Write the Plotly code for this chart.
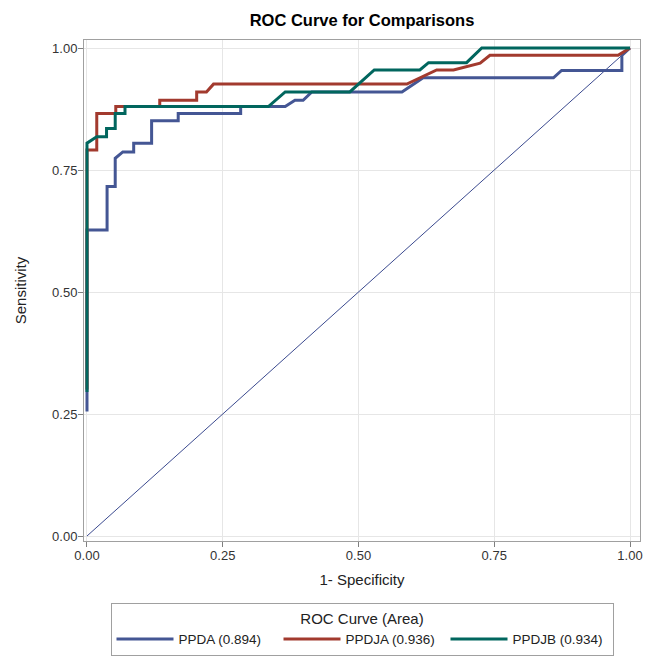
import plotly.graph_objects as go

# ---- data ----
ppda_x = [0, 0, 0.037, 0.037, 0.052, 0.052, 0.066, 0.086, 0.086, 0.119, 0.119, 0.168, 0.168,
          0.283, 0.283, 0.365, 0.383, 0.398, 0.414, 0.580, 0.619, 0.859, 0.874, 0.985, 0.985, 1.0]
ppda_y = [0.255, 0.627, 0.627, 0.716, 0.716, 0.774, 0.787, 0.787, 0.805, 0.805, 0.851, 0.851, 0.866,
          0.866, 0.880, 0.880, 0.893, 0.893, 0.910, 0.910, 0.939, 0.939, 0.954, 0.954, 0.985, 1.0]

ppdja_x = [0, 0, 0.018, 0.018, 0.053, 0.053, 0.134, 0.134, 0.202, 0.202, 0.220, 0.233,
           0.589, 0.616, 0.644, 0.675, 0.724, 0.742, 0.978, 1.0]
ppdja_y = [0.30, 0.791, 0.791, 0.866, 0.866, 0.880, 0.880, 0.893, 0.893, 0.910, 0.910, 0.926,
           0.926, 0.941, 0.955, 0.955, 0.969, 0.985, 0.985, 1.0]

ppdjb_x = [0, 0, 0.018, 0.036, 0.036, 0.052, 0.052, 0.070, 0.070, 0.334, 0.365, 0.484,
           0.529, 0.613, 0.629, 0.699, 0.727, 1.0]
ppdjb_y = [0.295, 0.805, 0.818, 0.818, 0.835, 0.835, 0.866, 0.866, 0.880, 0.880, 0.910, 0.910,
           0.955, 0.955, 0.970, 0.970, 1.0, 1.0]

chance_x = [0, 1]
chance_y = [0, 1]

series_names = ["PPDA (0.894)", "PPDJA (0.936)", "PPDJB (0.934)"]
series_colors = ["#445694", "#A23A2E", "#01665E"]
tick_vals = [0, 0.25, 0.5, 0.75, 1.0]
tick_text = ["0.00", "0.25", "0.50", "0.75", "1.00"]

FONT = "Liberation Sans, Arial, Helvetica, sans-serif"

fig = go.Figure()
fig.add_trace(go.Scatter(x=chance_x, y=chance_y, mode="lines",
                         line=dict(color="#3b4a8f", width=1), showlegend=False,
                         hoverinfo="skip"))
for xs, ys, name, col in zip([ppda_x, ppdja_x, ppdjb_x], [ppda_y, ppdja_y, ppdjb_y],
                             series_names, series_colors):
    fig.add_trace(go.Scatter(x=xs, y=ys, mode="lines", name=name,
                             line=dict(color=col, width=3)))

axis_common = dict(
    tickvals=tick_vals, ticktext=tick_text,
    showgrid=True, gridcolor="#e6e6e6", gridwidth=1,
    zeroline=False, automargin=False,
    showline=True, linecolor="#a0a0a0", linewidth=1, mirror=True,
    ticks="outside", ticklen=5, tickcolor="#7f7f7f", tickwidth=1,
    tickfont=dict(family=FONT, size=13, color="#333333"),
)

# page body adds an 8px offset, so the figure is 653x654 placed at (8,8)
fig.update_layout(
    width=653, height=654,
    margin=dict(l=76, r=21, t=32, b=121, autoexpand=False),
    paper_bgcolor="white", plot_bgcolor="white",
    title=dict(text="<b>ROC Curve for Comparisons</b>", x=0.5, xref="paper",
               y=1 - 12 / 654, yanchor="middle", automargin=False,
               font=dict(family=FONT, size=16.5, color="#000000")),
    xaxis=dict(range=[-0.0055, 1.0184], ticklabelstandoff=-3,
               title=dict(text="1- Specificity", standoff=12,
                          font=dict(family=FONT, size=15, color="#222222")),
               **axis_common),
    yaxis=dict(range=[-0.0102, 1.0164], ticklabelstandoff=-2,
               title=dict(text="Sensitivity", standoff=21,
                          font=dict(family=FONT, size=15, color="#222222")),
               **axis_common),
    legend=dict(orientation="h", x=0.5, xanchor="center", y=-0.124, yanchor="top",
                bordercolor="#a0a0a0", borderwidth=1, bgcolor="white",
                title=dict(text="ROC Curve (Area)", side="top center",
                           font=dict(family=FONT, size=15, color="#222222")),
                font=dict(family=FONT, size=13.5, color="#222222"),
                itemwidth=57, entrywidth=95, tracegroupgap=0),
)

fig.write_html("out.html")
